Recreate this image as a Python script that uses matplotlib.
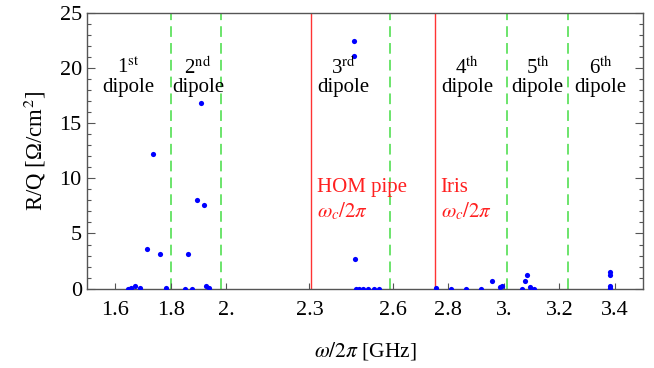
import matplotlib
matplotlib.use("Agg")
import matplotlib.pyplot as plt
from matplotlib.ticker import FixedLocator, MultipleLocator

plt.rcParams["font.family"] = ["Liberation Serif", "DejaVu Serif"]
plt.rcParams["mathtext.fontset"] = "stix"

# ── data ─────────────────────────────────────────────────────────────────────
freq = [1.648, 1.657, 1.673, 1.691, 1.714, 1.738, 1.762, 1.784,
        1.853, 1.862, 1.877, 1.894, 1.910, 1.921, 1.928, 1.937,
        2.462, 2.462, 2.465, 2.468, 2.480, 2.492, 2.510, 2.531, 2.550,
        2.757, 2.811, 2.865, 2.919, 2.959, 2.985, 2.993,
        3.066, 3.075, 3.083, 3.095, 3.110,
        3.384, 3.384, 3.384, 3.384]
rq = [0.0, 0.1, 0.27, 0.06, 3.6, 12.2, 3.1, 0.06,
      0.0, 3.1, 0.0, 8.0, 16.8, 7.55, 0.27, 0.1,
      22.4, 21.1, 2.7, 0.0, 0.0, 0.0, 0.0, 0.0, 0.0,
      0.1, 0.0, 0.0, 0.0, 0.73, 0.12, 0.2,
      0.0, 0.73, 1.2, 0.12, 0.0,
      1.5, 1.2, 0.27, 0.06]

dipole_bounds = [1.80, 1.98, 2.59, 3.01, 3.232]   # green dashed
cutoffs = [2.307, 2.752]                          # red lines
cutoff_names = ["HOM pipe", "Iris"]

dipole_x = [1.648, 1.898, 2.423, 2.867, 3.122, 3.349]
dipole_ord = ["1", "2", "3", "4", "5", "6"]
dipole_suf = ["st", "nd", "rd", "th", "th", "th"]

xticks = [1.6, 1.8, 2.0, 2.3, 2.6, 2.8, 3.0, 3.2, 3.4]
xticklabels = ["1.6", "1.8", "2.", "2.3", "2.6", "2.8", "3.", "3.2", "3.4"]

# ── plot ─────────────────────────────────────────────────────────────────────
fig = plt.figure(figsize=(6.54, 3.68), dpi=100)
ax = fig.add_axes([0.1335, 0.2155, 0.8492, 0.75])

for xb in dipole_bounds:
    ax.axvline(xb, color="#44dd44", lw=1.1, ls=(0, (7, 4)), zorder=1)
for xc in cutoffs:
    ax.axvline(xc, color="#ff3333", lw=1.0, zorder=1)

ax.scatter(freq, rq, s=14, color="#0000ff", zorder=3, linewidths=0)

for xd, o, s in zip(dipole_x, dipole_ord, dipole_suf):
    ax.text(xd, 20.0, o + r"$^{\mathrm{" + s + r"}}$", ha="center", va="center",
            fontsize=15)
    ax.text(xd, 18.2, "dipole", ha="center", va="center", fontsize=15)

for xc, name in zip(cutoffs, cutoff_names):
    ax.text(xc + 0.02, 9.2, name, color="#ff2020", ha="left", va="center",
            fontsize=15)
    ax.text(xc + 0.02, 7.0, r"$\omega_c/2\pi$", color="#ff2020", ha="left",
            va="center", fontsize=15)

ax.set_xlim(1.5, 3.5)
ax.set_ylim(0, 25)
ax.xaxis.set_major_locator(FixedLocator(xticks))
ax.set_xticklabels(xticklabels)
ax.yaxis.set_major_locator(MultipleLocator(5))
ax.yaxis.set_minor_locator(MultipleLocator(1))

ax.tick_params(axis="x", which="both", direction="in", length=4, width=0.8,
               color="#555555", labelsize=16, pad=9, top=False)
ax.tick_params(axis="y", which="major", direction="in", length=6, width=0.8,
               color="#555555", labelsize=16, right=True, pad=4)
ax.tick_params(axis="y", which="minor", direction="in", length=3, width=0.8,
               color="#555555", right=True)
for sp in ax.spines.values():
    sp.set_color("#555555")
    sp.set_linewidth(1.0)

ax.set_xlabel(r"$\omega/2\pi$ [GHz]", fontsize=15.5, labelpad=14)
ax.set_ylabel("R/Q [Ω/cm$^2$]", fontsize=16.5, labelpad=8)

fig.savefig("out.png", dpi=100)
